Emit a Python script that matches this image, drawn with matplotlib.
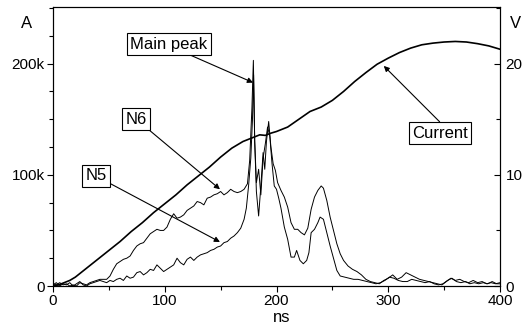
import matplotlib
matplotlib.use('Agg')
import matplotlib.pyplot as plt
from matplotlib.ticker import MultipleLocator, FuncFormatter

plt.rcParams['font.family'] = ['Liberation Sans', 'DejaVu Sans']

# current (A)
current_ns = [0, 5, 10, 15, 20, 30, 40, 50, 60, 70, 80, 90, 100, 110, 120, 130, 140,
              150, 160, 170, 180, 185, 190, 195, 200, 210, 220, 230, 240, 250, 260, 270,
              280, 290, 300, 310, 320, 330, 340, 350, 360, 370, 380, 390, 400]
current_a = [0, 1000, 3000, 5000, 8000, 16000, 24000, 32000, 40000, 49000, 57000, 66000,
             74000, 82000, 91000, 99000, 107000, 116000, 124000, 130000, 134000, 136000,
             135500, 137500, 139000, 143000, 150000, 157000, 161000, 167000, 175000, 184000,
             192000, 199500, 205000, 210000, 214000, 217000, 218500, 219500, 220000, 219500,
             218000, 216000, 213000]

# N6 probe (V)
n6_ns = [0, 3, 6, 9, 12, 15, 18, 21, 24, 27, 30, 33, 36, 39, 42, 45, 48, 51, 54, 57, 60,
         63, 66, 69, 72, 75, 78, 81, 84, 87, 90, 93, 96, 99, 102, 105, 108, 111, 114, 117,
         120, 123, 126, 129, 132, 135, 138, 141, 144, 147, 150, 153, 156, 159, 162, 165,
         168, 171, 174, 176, 178, 179.3, 180.5, 182, 184, 186, 188, 189.5, 191, 193, 195,
         197, 199, 201, 204, 207, 210, 213, 216, 219, 222, 225, 228, 231, 234, 237, 240,
         242, 245, 248, 251, 254, 257, 260, 264, 268, 272, 276, 280, 284, 288, 292, 296,
         300, 304, 308, 312, 316, 320, 324, 328, 332, 336, 340, 344, 348, 352, 356, 360,
         364, 368, 372, 376, 380, 384, 388, 392, 396, 400]
n6_v = [0.2, 0.1, 0.3, 0.1, 0.2, 0.0, 0.1, 0.0, 0.3, 0.2, 0.1, 0.3, 0.4, 0.5, 0.6, 0.6,
        0.6, 0.9, 1.5, 2.0, 2.2, 2.4, 2.5, 2.7, 3.2, 3.6, 3.8, 3.9, 4.3, 4.7, 4.9, 5.1, 5.0,
        5.0, 5.3, 6.0, 6.5, 6.1, 6.2, 6.4, 6.8, 7.0, 7.2, 7.6, 7.5, 7.3, 7.9, 8.0, 8.2,
        8.3, 8.5, 8.2, 8.4, 8.7, 8.5, 8.4, 8.5, 8.7, 9.2, 11.3, 16.0, 20.3, 13.0, 8.5, 6.3,
        9.0, 12.0, 10.5, 13.0, 14.8, 12.5, 11.0, 10.4, 9.3, 8.6, 8.0, 7.1, 5.7, 5.1, 5.1,
        4.8, 4.6, 5.2, 6.9, 8.0, 8.6, 9.0, 8.8, 7.7, 6.2, 5.0, 3.8, 2.9, 2.3, 1.8, 1.5,
        1.3, 1.0, 0.6, 0.4, 0.3, 0.2, 0.5, 0.7, 1.0, 0.6, 0.8, 1.2, 1.0, 0.8, 0.6, 0.5,
        0.4, 0.3, 0.2, 0.1, 0.4, 0.7, 0.5, 0.6, 0.4, 0.3, 0.5, 0.3, 0.4, 0.2, 0.3, 0.2, 0.3]

# N5 probe (V)
n5_ns = [0, 3, 6, 9, 12, 15, 18, 21, 24, 27, 30, 33, 36, 39, 42, 45, 48, 51, 54, 57, 60,
         63, 66, 69, 72, 75, 78, 81, 84, 87, 90, 93, 96, 99, 102, 105, 108, 111, 114, 117,
         120, 123, 126, 129, 132, 135, 138, 141, 144, 147, 150, 153, 156, 159, 162, 165,
         168, 171, 173, 175, 177, 178.5, 179.5, 180.5, 182, 184, 186, 188, 190, 192, 194,
         196, 198, 200, 202, 204, 207, 210, 213, 216, 218, 221, 224, 227, 229, 231, 234,
         237, 239, 242, 245, 248, 251, 254, 257, 261, 265, 269, 273, 277, 281, 285, 289,
         293, 297, 301, 305, 309, 313, 317, 321, 325, 329, 333, 337, 341, 345, 349, 353,
         357, 361, 365, 369, 373, 377, 381, 385, 389, 393, 397, 400]
n5_v = [0.1, 0.3, 0.0, 0.2, 0.1, 0.3, 0.0, 0.2, 0.4, 0.1, 0.0, 0.2, 0.3, 0.4, 0.5, 0.4,
        0.3, 0.5, 0.4, 0.6, 0.7, 0.5, 0.9, 0.7, 0.8, 1.2, 1.3, 1.0, 1.2, 1.5, 1.4, 1.9, 1.6,
        1.3, 1.5, 1.7, 1.9, 2.5, 2.1, 1.9, 2.4, 2.6, 2.3, 2.6, 2.8, 2.9, 3.0, 3.2, 3.3, 3.5,
        3.6, 3.9, 4.0, 4.3, 4.5, 4.8, 5.2, 6.0, 7.0, 9.0, 11.5, 15.0, 19.0, 13.0, 9.3, 10.5,
        8.2, 11.5, 12.8, 14.3, 13.5, 11.0, 9.0, 8.7, 7.9, 7.0, 5.3, 4.2, 2.6, 2.6, 3.2, 2.3,
        2.0, 2.3, 3.0, 4.8, 5.1, 5.7, 6.2, 6.0, 4.8, 3.6, 2.5, 1.4, 0.9, 0.8, 0.7, 0.6, 0.6,
        0.5, 0.4, 0.3, 0.2, 0.3, 0.5, 0.8, 0.7, 0.5, 0.4, 0.4, 0.6, 0.5, 0.4, 0.3, 0.4, 0.2,
        0.1, 0.2, 0.5, 0.7, 0.4, 0.3, 0.4, 0.2, 0.3, 0.2, 0.3, 0.2, 0.4, 0.2, 0.2]

W, H = 523, 329
fig = plt.figure(figsize=(W / 100, H / 100), dpi=100)
ax = fig.add_axes([53 / W, 1 - 286 / H, 447 / W, 279 / H])
ax2 = ax.twinx()

ax.plot(current_ns, current_a, color='black', lw=1.2)
ax2.plot(n6_ns, n6_v, color='black', lw=0.7)
ax2.plot(n5_ns, n5_v, color='black', lw=0.7)

ax.set_xlim(0, 400)
ax.set_ylim(0, 251000)
ax2.set_ylim(0, 25.1)

ax.xaxis.set_major_locator(MultipleLocator(100))
ax.xaxis.set_minor_locator(MultipleLocator(50))
ax.yaxis.set_major_locator(MultipleLocator(100000))
ax.yaxis.set_minor_locator(MultipleLocator(25000))
ax.yaxis.set_major_formatter(FuncFormatter(lambda v, p: '0' if v == 0 else '%dk' % (v / 1000)))
ax2.yaxis.set_major_locator(MultipleLocator(10))
ax2.yaxis.set_minor_locator(MultipleLocator(5))

ax.tick_params(axis='x', which='both', direction='out', top=False, labelsize=11, pad=2, width=0.8)
ax.tick_params(axis='x', which='major', length=4)
ax.tick_params(axis='x', which='minor', length=3)
ax.tick_params(axis='y', which='both', direction='out', right=False, labelsize=11, pad=2, width=0.8)
ax.tick_params(axis='y', which='major', length=4)
ax.tick_params(axis='y', which='minor', length=3)
ax2.tick_params(axis='y', which='both', direction='in', labelsize=11, pad=4, width=0.8)
ax2.tick_params(axis='y', which='major', length=4)
ax2.tick_params(axis='y', which='minor', length=3)
for a in (ax, ax2):
    for s in a.spines.values():
        s.set_linewidth(0.8)

fig.text(27 / W, 1 - 24 / H, 'A', fontsize=12, ha='center', va='center')
fig.text(515 / W, 1 - 24 / H, 'V', fontsize=12, ha='center', va='center')
fig.text(282 / W, 1 - 318 / H, 'ns', fontsize=12, ha='center', va='center')

box = dict(boxstyle='square,pad=0.2', fc='white', ec='black', lw=0.8)

def note(text, tip, pos, relpos=(0.5, 0.5)):
    ax.annotate(text, xy=tip, xycoords='data', xytext=(pos[0], H - pos[1]),
                textcoords='figure pixels', fontsize=12, ha='center', va='center', bbox=box,
                arrowprops=dict(arrowstyle='-|>', color='black', lw=0.8, mutation_scale=8,
                                shrinkA=0, shrinkB=0, relpos=relpos))

note('Main peak', (179, 183000), (169, 44), relpos=(0.67, 0))
note('N6', (149.4, 87000), (136, 119))
note('N5', (149.4, 39600), (96, 176))
note('Current', (296, 198000), (440, 133), relpos=(0.56, 1))

fig.savefig('out.png', dpi=100)
